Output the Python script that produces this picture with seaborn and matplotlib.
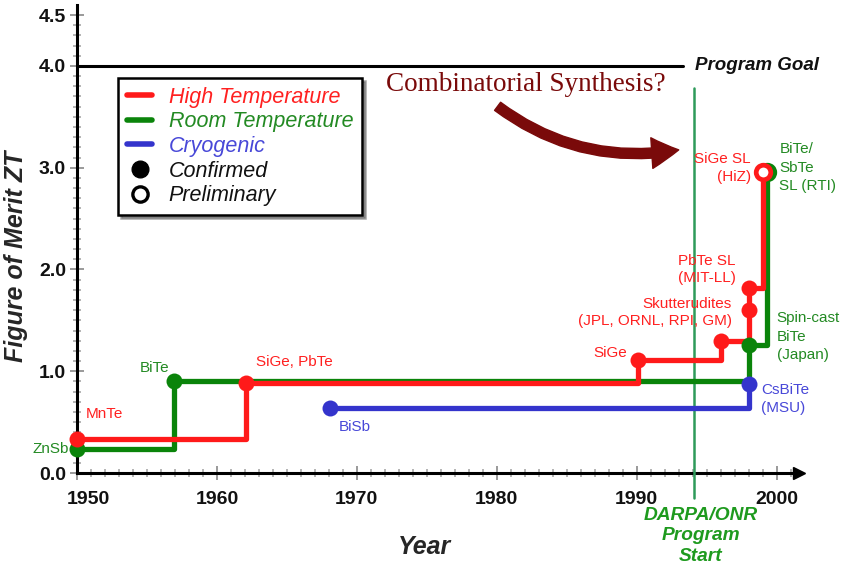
import numpy as np
import pandas as pd
import matplotlib
matplotlib.use("Agg")
import matplotlib.pyplot as plt
import seaborn as sns
from matplotlib.lines import Line2D
from matplotlib.patches import FancyArrowPatch
from matplotlib.ticker import MultipleLocator, FixedLocator
from matplotlib.transforms import ScaledTranslation

# ---------------- data ----------------
high_years = [1950, 1962.1, 1990.1, 1996.0, 1998.0, 1998.0, 1999.0]
high_zt = [0.33, 0.88, 1.11, 1.30, 1.60, 1.82, 2.96]
high_confirmed = [True, True, True, True, True, True, False]

room_years = [1950, 1956.9, 1998.0, 1999.3]
room_zt = [0.236, 0.905, 1.26, 2.96]
room_confirmed = [True, True, True, False]

cryo_years = [1968.1, 1998.0]
cryo_zt = [0.64, 0.87]
cryo_confirmed = [True, True]

program_goal = 4.0
darpa_year = 1994.1

x_ticks = [1950, 1960, 1970, 1980, 1990, 2000]
x_tick_labels = ["1950", "1960", "1970", "1980", "1990", "2000"]
y_ticks = [0.0, 1.0, 2.0, 3.0, 4.0, 4.5]
y_tick_labels = ["0.0", "1.0", "2.0", "3.0", "4.0", "4.5"]

RED = "#ff1a1a"
GREEN = "#0a840a"
BLUE = "#3434cc"
RED_T = "#ff2020"
GREEN_T = "#238a23"
BLUE_T = "#4848d8"
DARKRED = "#7a0a0a"

# ---------------- style ----------------
sns.set_theme(style="white")
plt.rcParams["font.family"] = ["Liberation Sans", "DejaVu Sans"]

fig = plt.figure(figsize=(8.41, 5.69), dpi=100)
ax = fig.add_axes([77 / 841, (569 - 473) / 569, (799 - 77) / 841, (473 - 10) / 569])
ax.set_xlim(1950, 2001.6)
ax.set_ylim(0, 4.55)

LW = 3.8
MS = 11.5

def series(years, zt, color):
    df = pd.DataFrame({"Year": years, "ZT": zt})
    sns.lineplot(data=df, x="Year", y="ZT", ax=ax, color=color, lw=LW,
                 estimator=None, sort=False, drawstyle="steps-post",
                 clip_on=False, zorder=3)

series(room_years, room_zt, GREEN)
series(cryo_years, cryo_zt, BLUE)
series(high_years, high_zt, RED)

def points(years, zt, conf, color, z):
    df = pd.DataFrame({"Year": years, "ZT": zt, "c": conf})
    d1 = df[df["c"]]
    d2 = df[~df["c"]]
    sns.scatterplot(data=d1, x="Year", y="ZT", ax=ax, color=color, s=MS ** 2,
                    edgecolor=color, linewidth=0, clip_on=False, zorder=z)
    if len(d2):
        sns.scatterplot(data=d2, x="Year", y="ZT", ax=ax, color="white", s=(MS - 1) ** 2,
                        edgecolor=color, linewidth=3.4, clip_on=False, zorder=z + 0.5)

points(room_years, room_zt, room_confirmed, GREEN, 4)
points(cryo_years, cryo_zt, cryo_confirmed, BLUE, 4)
points(high_years, high_zt, high_confirmed, RED, 5)

# Program goal line
ax.plot([1950, 1993.3], [program_goal, program_goal], color="black", lw=2.2, zorder=2)
ax.text(1994.2, program_goal, "Program Goal", fontsize=13.5, fontweight="bold",
        style="italic", ha="left", va="center", color="#111111")

# DARPA vertical line
ax.plot([darpa_year, darpa_year], [3.78, -0.25], color="#2e9a5a", lw=1.8,
        clip_on=False, zorder=2)
ax.text(1994.6, -0.33, "DARPA/ONR\nProgram\nStart", fontsize=13.8, fontweight="bold",
        style="italic", ha="center", va="top", color="#1e9a1e", linespacing=1.3)

# Combinatorial synthesis
ax.text(1982.1, 3.815, "Combinatorial Synthesis?", fontsize=19.5,
        family=["Liberation Serif", "DejaVu Serif"], color=DARKRED,
        ha="center", va="center")
arrow = FancyArrowPatch((1979.9, 3.62), (1993.2, 3.18),
                        connectionstyle="arc3,rad=0.22",
                        arrowstyle="Simple,tail_width=0.28,head_width=0.85,head_length=0.75",
                        mutation_scale=26, color=DARKRED, zorder=4)
ax.add_patch(arrow)

# Labels
fs = 11
ax.text(1950.6, 0.58, "MnTe", color=RED_T, fontsize=fs, ha="left", va="center")
ax.text(1949.4, 0.236, "ZnSb", color=GREEN_T, fontsize=fs, ha="right", va="center")
ax.text(1956.6, 1.03, "BiTe", color=GREEN_T, fontsize=fs, ha="right", va="center")
ax.text(1962.8, 1.09, "SiGe, PbTe", color=RED_T, fontsize=fs, ha="left", va="center")
ax.text(1968.7, 0.45, "BiSb", color=BLUE_T, fontsize=fs, ha="left", va="center")
ax.text(1989.3, 1.18, "SiGe", color=RED_T, fontsize=fs, ha="right", va="center")
ax.text(1996.8, 1.58, "Skutterudites\n(JPL, ORNL, RPI, GM)", color=RED_T, fontsize=fs,
        ha="right", va="center", multialignment="right", linespacing=1.3)
ax.text(1995.0, 2.0, "PbTe SL\n(MIT-LL)", color=RED_T, fontsize=fs,
        ha="center", va="center", multialignment="center", linespacing=1.3)
ax.text(1998.15, 3.0, "SiGe SL\n(HiZ)", color=RED_T, fontsize=fs,
        ha="right", va="center", multialignment="right", linespacing=1.4)
ax.text(2000.2, 3.0, "BiTe/\nSbTe\nSL (RTI)", color=GREEN_T, fontsize=fs,
        ha="left", va="center", linespacing=1.4)
ax.text(2000.0, 1.34, "Spin-cast\nBiTe\n(Japan)", color=GREEN_T, fontsize=fs,
        ha="left", va="center", linespacing=1.4)
ax.text(1998.9, 0.73, "CsBiTe\n(MSU)", color=BLUE_T, fontsize=fs,
        ha="left", va="center", linespacing=1.35)

# Axes styling
for s in ["top", "right"]:
    ax.spines[s].set_visible(False)
for s in ["left", "bottom"]:
    ax.spines[s].set_color("black")
    ax.spines[s].set_linewidth(2.2)
    ax.spines[s].set_zorder(1)
ax.spines["left"].set_bounds(0, 4.6)

ax.xaxis.set_major_locator(FixedLocator(x_ticks))
ax.xaxis.set_minor_locator(MultipleLocator(1))
ax.yaxis.set_major_locator(FixedLocator(y_ticks))
ax.yaxis.set_minor_locator(MultipleLocator(0.1))
ax.set_xticklabels(x_tick_labels)
ax.set_yticklabels(y_tick_labels)
ax.tick_params(which="major", direction="inout", length=10, width=1.4, color="#9a9a9a",
               labelsize=14, pad=3, bottom=True, left=True)
ax.tick_params(which="minor", direction="inout", length=6, width=1.2, color="#a8a8a8",
               bottom=True, left=True)
for lab in ax.get_xticklabels() + ax.get_yticklabels():
    lab.set_fontweight("bold")
    lab.set_color("#111111")
ax.tick_params(axis="x", which="major", pad=8)
# first year label nudged right of the y-axis as in the original
first = ax.xaxis.get_major_ticks()[0].label1
first.set_transform(first.get_transform() + ScaledTranslation(0.11, 0, fig.dpi_scale_trans))

ax.set_xlabel("Year", fontsize=18, fontweight="bold", style="italic")
ax.set_ylabel("Figure of Merit ZT", fontsize=18, fontweight="bold", style="italic")
ax.xaxis.set_label_coords((425 - 77) / 722, -(535 - 473) / 463)
ax.yaxis.set_label_coords(-(77 - 28) / 722, (473 - 256) / 463)

# x-axis arrow
ax.plot(1.0, 0, marker=">", color="black", markersize=9, transform=ax.get_yaxis_transform(),
        clip_on=False, zorder=6)

# Legend
handles = [
    Line2D([], [], color=RED, lw=4),
    Line2D([], [], color=GREEN, lw=4),
    Line2D([], [], color=BLUE, lw=4),
    Line2D([], [], color="black", marker="o", ls="none", markersize=12),
    Line2D([], [], color="black", marker="o", ls="none", markersize=11,
           markerfacecolor="white", markeredgewidth=2.4),
]
labels = ["High Temperature", "Room Temperature", "Cryogenic", "Confirmed", "Preliminary"]
leg = fig.legend(handles, labels, loc="upper left",
                 bbox_to_anchor=(118 / 841, (569 - 78) / 569),
                 frameon=True, fancybox=False, shadow=True, fontsize=15.5,
                 handlelength=1.2, handletextpad=0.75, labelspacing=0.17,
                 borderpad=0.4, borderaxespad=0)
leg.get_frame().set_edgecolor("black")
leg.get_frame().set_linewidth(1.8)
for t, c in zip(leg.get_texts(), [RED_T, GREEN_T, BLUE_T, "#111111", "#111111"]):
    t.set_color(c)
    t.set_style("italic")

fig.savefig("out.png", dpi=100)
